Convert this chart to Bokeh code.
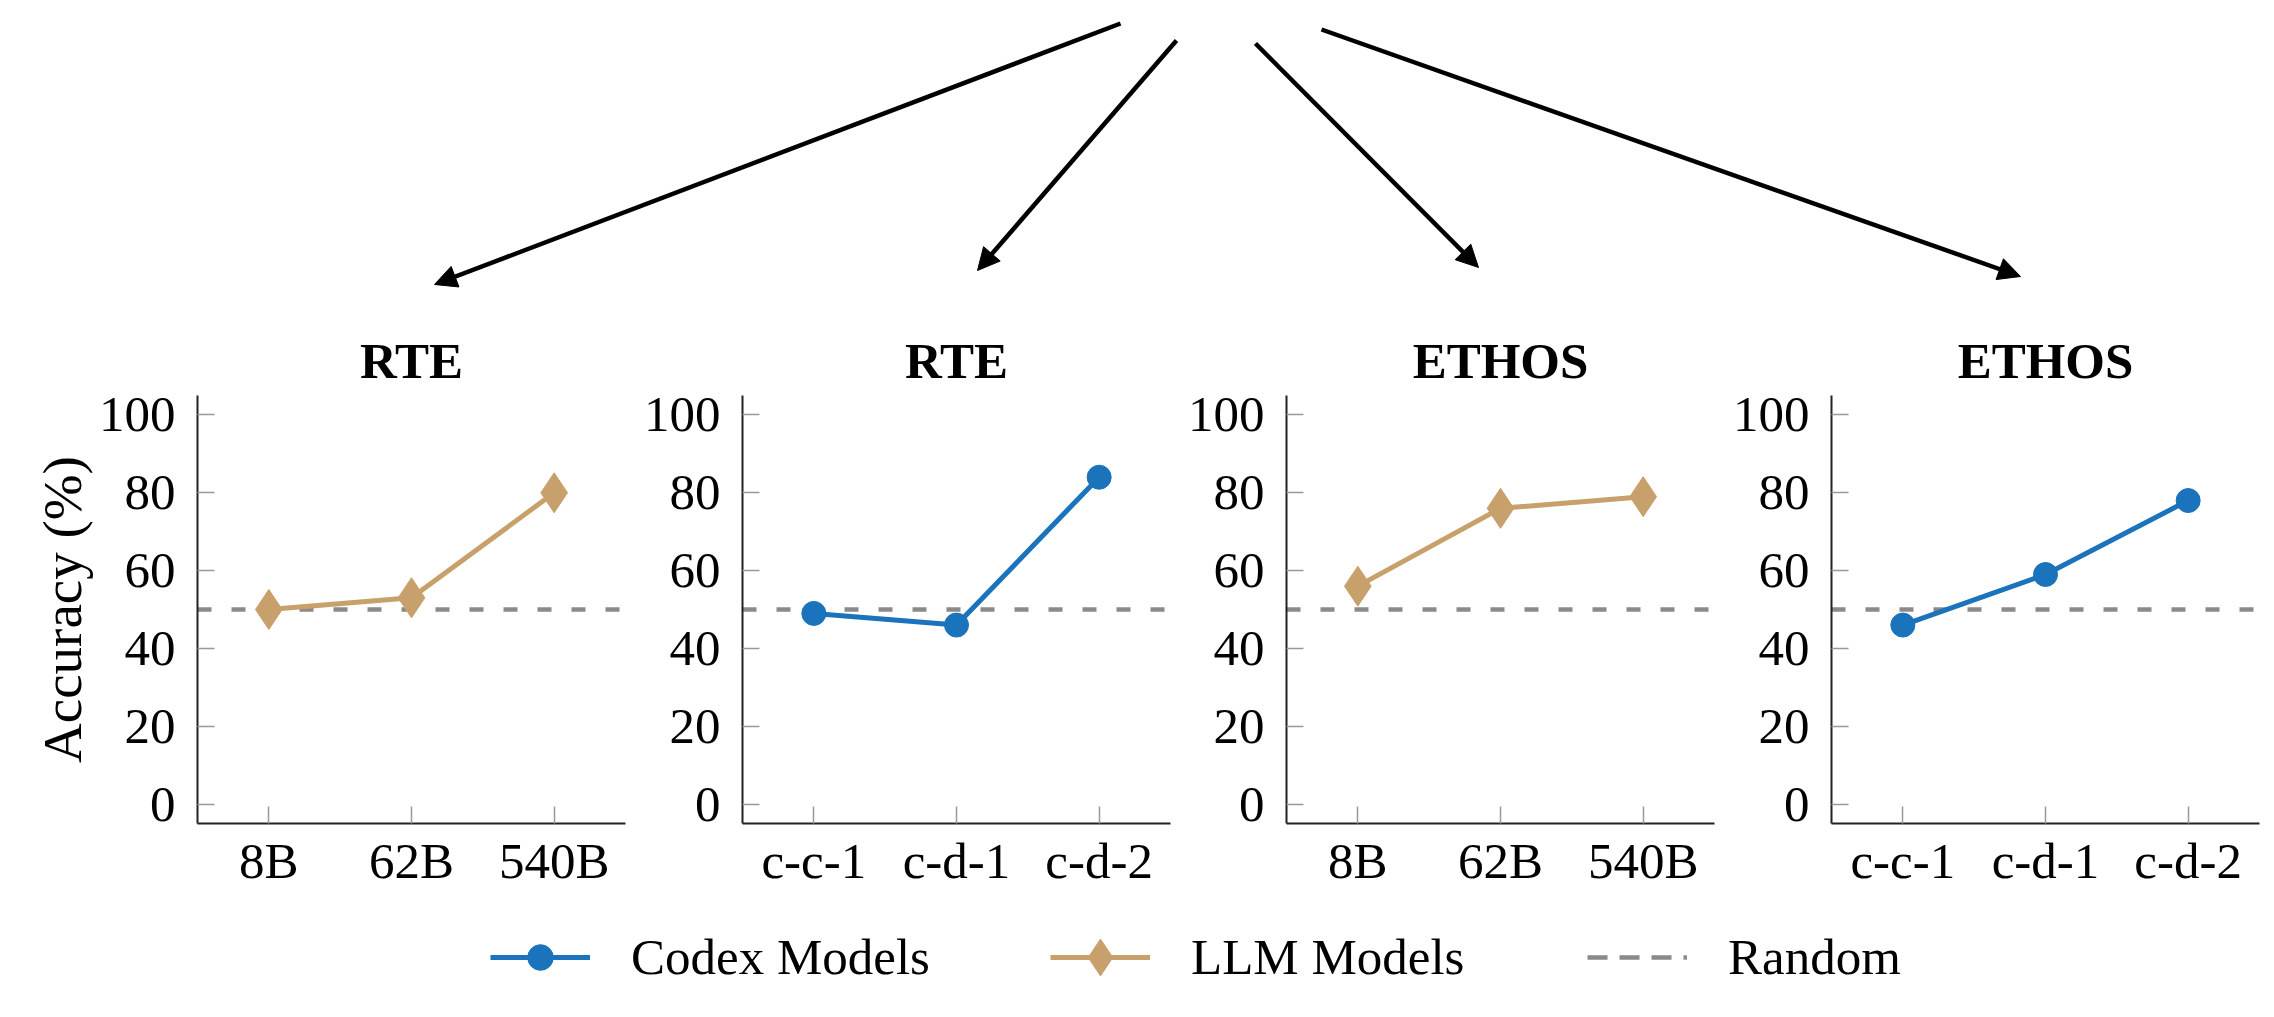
from bokeh.plotting import figure
from bokeh.models import (FactorRange, Range1d, FixedTicker, Span, Arrow, NormalHead,
                          Legend, LegendItem)
from bokeh.layouts import column, row
from bokeh.embed import file_html
from bokeh.resources import INLINE

# ---------------- data ----------------
LLM_SIZES = ["8B", "62B", "540B"]
CODEX_MODELS = ["c-c-1", "c-d-1", "c-d-2"]
RTE_LLM = [50, 53, 80]
RTE_CODEX = [49, 46, 84]
ETHOS_LLM = [56, 76, 79]
ETHOS_CODEX = [46, 59, 78]
RANDOM_ACC = 50
Y_TICKS = [0, 20, 40, 60, 80, 100]
TITLES = ["RTE", "RTE", "ETHOS", "ETHOS"]
SERIES_NAMES = ["Codex Models", "LLM Models", "Random"]

# ---------------- style ----------------
FONT = "Liberation Serif"
BLUE = "#1a73bb"
TAN = "#c8a06c"
GRAY = "#8a8a8a"
DASH = "14 20"
LINE_W = 5
CIRCLE_SIZE = 24
DIAMOND_SIZE = 40

FRAME = 428


def panel(title, cats, vals, kind, left, right, ylabel=None):
    p = figure(x_range=FactorRange(*cats), y_range=Range1d(-5, 105),
               frame_width=FRAME, frame_height=FRAME,
               min_border_left=left, min_border_right=right,
               min_border_top=97, min_border_bottom=95,
               output_backend="svg", toolbar_location=None, title=title)
    p.title.align = "center"
    p.title.text_font = FONT
    p.title.text_font_size = "51px"
    p.title.text_font_style = "bold"
    p.title.text_color = "black"
    p.title.standoff = 14

    span = Span(location=RANDOM_ACC, dimension="width", line_color=GRAY,
                line_width=4.5, line_dash=DASH, level="underlay")
    p.add_layout(span)

    color = BLUE if kind == "codex" else TAN
    p.line(x=cats, y=vals, line_color=color, line_width=LINE_W)
    if kind == "codex":
        p.scatter(x=cats, y=vals, marker="circle", size=CIRCLE_SIZE,
                  fill_color=color, line_color=color)
    else:
        p.scatter(x=cats, y=vals, marker="diamond", size=DIAMOND_SIZE,
                  fill_color=color, line_color=color)

    p.xgrid.visible = False
    p.ygrid.visible = False
    p.outline_line_color = None
    p.yaxis.ticker = FixedTicker(ticks=Y_TICKS)
    for ax in (p.xaxis[0], p.yaxis[0]):
        ax.axis_line_color = "#222222"
        ax.axis_line_width = 2
        ax.major_tick_in = 17
        ax.major_tick_out = 0
        ax.major_tick_line_color = "#999999"
        ax.major_tick_line_width = 1.5
        ax.minor_tick_line_color = None
        ax.major_label_text_font = FONT
        ax.major_label_text_font_size = "51px"
        ax.major_label_text_color = "black"
    p.yaxis.major_label_standoff = 22
    p.xaxis.major_label_standoff = 9
    if ylabel:
        p.yaxis.axis_label = ylabel
        p.yaxis.axis_label_text_font = FONT
        p.yaxis.axis_label_text_font_size = "55px"
        p.yaxis.axis_label_text_font_style = "normal"
        p.yaxis.axis_label_text_color = "black"
        p.yaxis.axis_label_standoff = 3
    return p


p1 = panel(TITLES[0], LLM_SIZES, RTE_LLM, "llm", 197, 10, ylabel="Accuracy (%)")
p2 = panel(TITLES[1], CODEX_MODELS, RTE_CODEX, "codex", 107, 10)
p3 = panel(TITLES[2], LLM_SIZES, ETHOS_LLM, "llm", 106, 10)
p4 = panel(TITLES[3], CODEX_MODELS, ETHOS_CODEX, "codex", 107, 7)

# ---------------- arrows on top ----------------
ARROWS = [((1120, 23), (434, 284)),
          ((1176, 40), (977, 270)),
          ((1255, 43), (1478, 267)),
          ((1321, 29), (2020, 276))]

top = figure(width=2266, height=298, x_range=Range1d(0, 2266), y_range=Range1d(298, 0),
             x_axis_type=None, y_axis_type=None, min_border=0,
             output_backend="svg", toolbar_location=None)
top.xgrid.visible = False
top.ygrid.visible = False
top.outline_line_color = None
for (xs, ys), (xe, ye) in ARROWS:
    top.add_layout(Arrow(x_start=xs, y_start=ys, x_end=xe, y_end=ye,
                         line_color="black", line_width=4.5,
                         end=NormalHead(size=22, fill_color="black", line_color="black",
                                        line_width=1)))

# ---------------- legend ----------------
NAN = [float("nan")]
leg = figure(width=2266, height=99, x_range=Range1d(0, 1), y_range=Range1d(0, 1),
             x_axis_type=None, y_axis_type=None, min_border=0,
             output_backend="svg", toolbar_location=None)
leg.xgrid.visible = False
leg.ygrid.visible = False
leg.outline_line_color = None
l1 = leg.line(x=NAN, y=NAN, line_color=BLUE, line_width=LINE_W)
s1 = leg.scatter(x=NAN, y=NAN, marker="circle", size=CIRCLE_SIZE, fill_color=BLUE, line_color=BLUE)
l2 = leg.line(x=NAN, y=NAN, line_color=TAN, line_width=LINE_W)
s2 = leg.scatter(x=NAN, y=NAN, marker="diamond", size=DIAMOND_SIZE, fill_color=TAN, line_color=TAN)
l3 = leg.line(x=NAN, y=NAN, line_color=GRAY, line_width=4.5, line_dash="20 12")

LEGEND_SPECS = [(SERIES_NAMES[0], [l1, s1], 490, 64),
                (SERIES_NAMES[1], [l2, s2], 1050, 92),
                (SERIES_NAMES[2], [l3], 1587, 64)]
CENTER_FROM_BOTTOM = 60
for label, rends, x0, gh in LEGEND_SPECS:
    lg = Legend(items=[LegendItem(label=label, renderers=rends)],
                orientation="horizontal", location=(x0, CENTER_FROM_BOTTOM - gh / 2),
                glyph_width=100, glyph_height=gh, label_standoff=41,
                padding=0, margin=0, border_line_color=None, background_fill_alpha=0,
                label_text_font=FONT, label_text_font_size="51px", label_text_color="black")
    leg.add_layout(lg)

layout = column(top, row(p1, p2, p3, p4), leg)
open("out.html", "w").write(file_html(layout, INLINE))
